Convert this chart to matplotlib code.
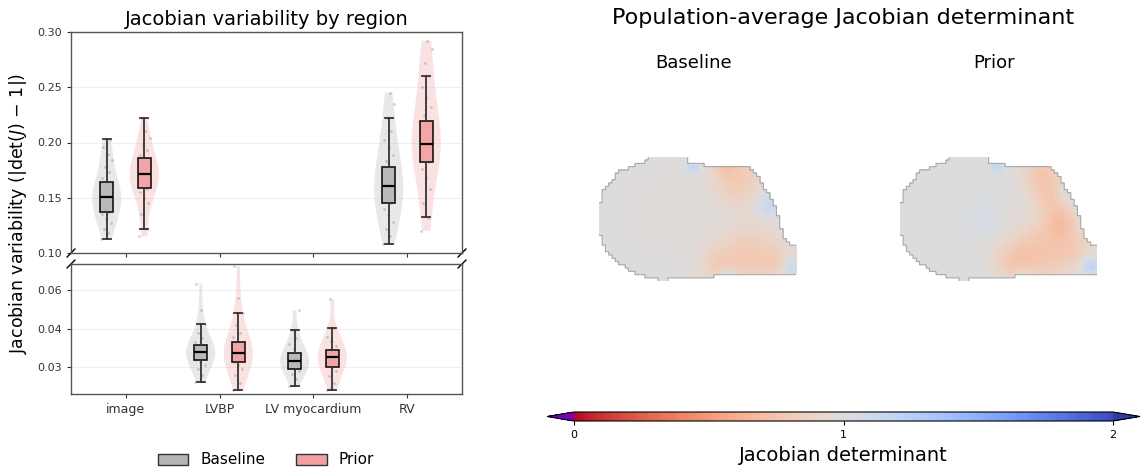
import numpy as np
import matplotlib
matplotlib.use('Agg')
import matplotlib.pyplot as plt
from matplotlib.path import Path
from matplotlib.patches import Patch
import matplotlib.colors as mcolors

# ---------------- data ----------------
regions = ['image', 'LVBP', 'LV myocardium', 'RV']
methods = ['Baseline', 'Prior']
top_idx = [0, 3]      # regions shown on upper (broken) axis
bottom_idx = [1, 2]   # regions shown on lower axis

baseline_lo = [0.1126, 0.0262, 0.0251, 0.1084]
baseline_q1 = [0.1370, 0.0319, 0.0297, 0.1451]
baseline_med = [0.1508, 0.0339, 0.0316, 0.1608]
baseline_q3 = [0.1641, 0.0357, 0.0338, 0.1779]
baseline_hi = [0.2029, 0.0413, 0.0397, 0.2221]

prior_lo = [0.1219, 0.0242, 0.0241, 0.1322]
prior_q1 = [0.1586, 0.0314, 0.0302, 0.1824]
prior_med = [0.1716, 0.0337, 0.0326, 0.1990]
prior_q3 = [0.1860, 0.0365, 0.0344, 0.2197]
prior_hi = [0.2218, 0.0441, 0.0403, 0.2606]

baseline_image = [0.113, 0.118, 0.122, 0.127, 0.131, 0.135, 0.137, 0.140, 0.143, 0.146,
                  0.148, 0.150, 0.151, 0.153, 0.156, 0.159, 0.162, 0.164, 0.168, 0.173,
                  0.178, 0.184, 0.190, 0.196, 0.202]
prior_image = [0.115, 0.122, 0.135, 0.145, 0.150, 0.155, 0.158, 0.160, 0.163, 0.166,
               0.168, 0.170, 0.172, 0.174, 0.176, 0.179, 0.182, 0.186, 0.189, 0.193,
               0.198, 0.204, 0.210, 0.222]
baseline_lvbp = [0.0262, 0.0280, 0.0295, 0.0305, 0.0315, 0.0320, 0.0327, 0.0333, 0.0339,
                 0.0343, 0.0348, 0.0352, 0.0357, 0.0365, 0.0375, 0.0390, 0.0413, 0.0450, 0.0517]
prior_lvbp = [0.0242, 0.0260, 0.0280, 0.0295, 0.0305, 0.0314, 0.0322, 0.0330, 0.0337,
              0.0343, 0.0350, 0.0358, 0.0365, 0.0378, 0.0390, 0.0410, 0.0441, 0.0480, 0.0562]
baseline_myo = [0.0251, 0.0270, 0.0283, 0.0290, 0.0297, 0.0303, 0.0310, 0.0316, 0.0321,
                0.0327, 0.0333, 0.0338, 0.0348, 0.0360, 0.0375, 0.0397, 0.0448]
prior_myo = [0.0241, 0.0260, 0.0278, 0.0290, 0.0302, 0.0310, 0.0318, 0.0326, 0.0332,
             0.0338, 0.0344, 0.0355, 0.0368, 0.0380, 0.0403, 0.0476]
baseline_rv = [0.108, 0.115, 0.122, 0.128, 0.134, 0.140, 0.145, 0.149, 0.153, 0.157,
               0.161, 0.164, 0.168, 0.172, 0.178, 0.183, 0.189, 0.195, 0.202, 0.210,
               0.222, 0.235, 0.245]
prior_rv = [0.120, 0.132, 0.145, 0.158, 0.168, 0.176, 0.182, 0.187, 0.192, 0.196,
            0.199, 0.203, 0.208, 0.213, 0.219, 0.225, 0.232, 0.240, 0.250, 0.260,
            0.272, 0.285, 0.292]

baseline_samples = [baseline_image, baseline_lvbp, baseline_myo, baseline_rv]
prior_samples = [prior_image, prior_lvbp, prior_myo, prior_rv]

top_yticks = [0.10, 0.15, 0.20, 0.25, 0.30]
bottom_yticks = [0.03, 0.04, 0.05]
bottom_yticklabels = ['0.03', '0.04', '0.06']

# image mask outline (col, row) on a 60 x 38 grid
mask_cols = [15.3, 27, 27, 32, 32, 44, 47, 48.5, 50, 53, 55, 56, 58, 60, 60, 42, 35, 23,
             20.4, 15.3, 10, 5, 2, 0, 0, 1, 1.5, 3.6, 6.1, 9.2, 11.2, 15.3, 15.3]
mask_rows = [0, 0, 1.5, 1.5, 2.5, 2.5, 4, 6.5, 9.5, 13.5, 19.5, 24, 26.5, 27.5, 35.5, 36,
             36.5, 36.5, 38, 37, 35, 31.6, 28, 23, 14.8, 12.8, 10.2, 7.7, 4.6, 3.6, 2.6, 1, 0]

# smooth deviations of the mean Jacobian determinant: (col, row, amplitude, width)
baseline_blob_col = [42, 38, 46, 36, 54, 28.5, 51, 39, 58, 22]
baseline_blob_row = [7, 2, 30, 33, 32, 3.5, 15, 37, 34, 17]
baseline_blob_amp = [-0.2, -0.2, -0.2, -0.14, -0.1, 0.18, 0.16, 0.18, 0.16, -0.03]
baseline_blob_sig = [5.5, 2.5, 6.5, 4, 3, 1.5, 2.5, 2, 2, 8]

prior_blob_col = [43, 46, 49, 43, 34, 53, 29.6, 25.5, 58, 38, 51]
prior_blob_row = [5, 12, 20, 29, 32, 28, 3, 19, 33.5, 37, 11]
prior_blob_amp = [-0.2, -0.18, -0.22, -0.24, -0.16, -0.12, 0.18, 0.05, 0.22, 0.15, 0.12]
prior_blob_sig = [4, 4, 3.5, 6.5, 4, 4, 1.5, 4, 2, 2, 2]

cbar_ticks = [0, 1, 2]

# ---------------- figure ----------------
W, H = 1141, 471
fig = plt.figure(figsize=(W / 100, H / 100), dpi=100)


def fax(x0, y0, x1, y1):
    return fig.add_axes([x0 / W, 1 - y1 / H, (x1 - x0) / W, (y1 - y0) / H])


ax_top = fax(71, 32, 462, 253)
ax_bot = fax(71, 264, 462, 394)

offset = 0.2
colors_box = {'Baseline': '#b5b5b5', 'Prior': '#f2a0a0'}
colors_vio = {'Baseline': '#c4c4c4', 'Prior': '#f5a5a5'}
stats = {
    'Baseline': (baseline_lo, baseline_q1, baseline_med, baseline_q3, baseline_hi, baseline_samples),
    'Prior': (prior_lo, prior_q1, prior_med, prior_q3, prior_hi, prior_samples),
}

for ax, idxs in ((ax_top, top_idx), (ax_bot, bottom_idx)):
    for m_i, m in enumerate(methods):
        lo, q1, med, q3, hi, samples = stats[m]
        sgn = -1 if m_i == 0 else 1
        for i in idxs:
            pos = i + sgn * offset
            data = samples[i]
            vp = ax.violinplot([data], positions=[pos], widths=0.31, showextrema=False,
                               bw_method=0.5)
            for b in vp['bodies']:
                b.set_facecolor(colors_vio[m])
                b.set_edgecolor('none')
                b.set_alpha(0.38 if m == 'Baseline' else 0.32)
            n = len(data)
            jit = (((np.arange(n) * 0.6180339) % 1.0) - 0.5) * 0.12
            ax.scatter(pos + jit, data, s=4, color='#666666', alpha=0.3, lw=0, zorder=3)
            ax.bxp([{'whislo': lo[i], 'q1': q1[i], 'med': med[i], 'q3': q3[i],
                     'whishi': hi[i], 'fliers': []}],
                   positions=[pos], widths=0.14, patch_artist=True, showfliers=False,
                   boxprops=dict(facecolor=colors_box[m], edgecolor='black', lw=1.2, alpha=0.9),
                   medianprops=dict(color='black', lw=1.6),
                   whiskerprops=dict(color='#333333', lw=1.3),
                   capprops=dict(color='#333333', lw=1.3), capwidths=0.085,
                   zorder=4, manage_ticks=False)

for ax in (ax_top, ax_bot):
    ax.set_xlim(-0.58, 3.58)
    ax.set_xticks(range(4))
    ax.grid(axis='y', color='#eeeeee', lw=0.8)
    ax.set_axisbelow(True)
    for s in ax.spines.values():
        s.set_color('#555555')
        s.set_linewidth(1.0)
    ax.tick_params(colors='#333333', labelsize=8, length=3, width=0.8)

ax_top.set_ylim(0.10, 0.30)
ax_top.set_yticks(top_yticks)
ax_top.set_yticklabels(['%.2f' % v for v in top_yticks])
ax_top.set_xticklabels([])
ax_top.set_title('Jacobian variability by region', fontsize=14, pad=5)

ax_bot.set_ylim(0.0231, 0.0568)
ax_bot.set_yticks(bottom_yticks)
ax_bot.set_yticklabels(bottom_yticklabels)
ax_bot.set_xticklabels(regions, fontsize=9)

d = 0.01
for xx in (0, 1):
    ax_top.plot((xx - d, xx + d), (-d * 1.8, d * 1.8), transform=ax_top.transAxes,
                color='black', lw=1.0, clip_on=False)
    ax_bot.plot((xx - d, xx + d), (1 - d * 3.0, 1 + d * 3.0), transform=ax_bot.transAxes,
                color='black', lw=1.0, clip_on=False)

fig.text(18 / W, 1 - 213 / H, 'Jacobian variability (|det($J$) \u2212 1|)', rotation=90,
         ha='center', va='center', fontsize=12.5)

handles = [Patch(facecolor=colors_box[m], edgecolor='#333333', label=m) for m in methods]
fig.legend(handles=handles, loc='center', bbox_to_anchor=(266 / W, 1 - 460 / H), ncol=2,
           frameon=False, fontsize=11, handlelength=2.0, columnspacing=2.0)

# ---------------- images ----------------
ncol, nrow = 60, 38
cc, rr = np.meshgrid(np.arange(ncol) + 0.5, np.arange(nrow) + 0.5)
poly = Path(np.column_stack([mask_cols, mask_rows]))
inside = poly.contains_points(np.column_stack([cc.ravel(), rr.ravel()])).reshape(nrow, ncol)


def field(bc, br, ba, bs):
    f = np.ones((nrow, ncol))
    for c0, r0, a, s in zip(bc, br, ba, bs):
        f += a * np.exp(-((cc - c0) ** 2 + (rr - r0) ** 2) / (2 * s ** 2))
    return np.ma.masked_where(~inside, f)


cmap = plt.get_cmap('coolwarm_r').copy()
cmap.set_under('#7a00b8')
cmap.set_over('#2f3c9e')
norm = mcolors.Normalize(vmin=0, vmax=2)

fields = [field(baseline_blob_col, baseline_blob_row, baseline_blob_amp, baseline_blob_sig),
          field(prior_blob_col, prior_blob_row, prior_blob_amp, prior_blob_sig)]
img_x = [(599, 796), (900, 1097)]
fine = np.kron(inside.astype(float), np.ones((10, 10)))
im = None
for (x0, x1), f, name in zip(img_x, fields, methods):
    ax = fax(x0, 157, x1, 281)
    im = ax.imshow(f, cmap=cmap, norm=norm, interpolation='nearest',
                   extent=(0, ncol, nrow, 0), aspect='auto')
    ax.contour(np.linspace(0, ncol, ncol * 10), np.linspace(0, nrow, nrow * 10), fine,
               levels=[0.5], colors='#a8a8a8', linewidths=0.8)
    ax.set_xlim(0, ncol)
    ax.set_ylim(nrow, 0)
    ax.axis('off')
    fig.text(((x0 + x1) / 2 - 4) / W, 1 - 63 / H, name, ha='center', va='center', fontsize=13)

fig.text(843 / W, 1 - 18 / H, 'Population-average Jacobian determinant', ha='center',
         va='center', fontsize=16)

cax = fax(547, 412, 1140, 421)
cb = fig.colorbar(im, cax=cax, orientation='horizontal', extend='both', ticks=cbar_ticks)
cb.ax.tick_params(labelsize=8, length=3)
cb.set_label('Jacobian determinant', fontsize=14)
cb.outline.set_linewidth(0.8)

fig.savefig('out.png', dpi=100)
